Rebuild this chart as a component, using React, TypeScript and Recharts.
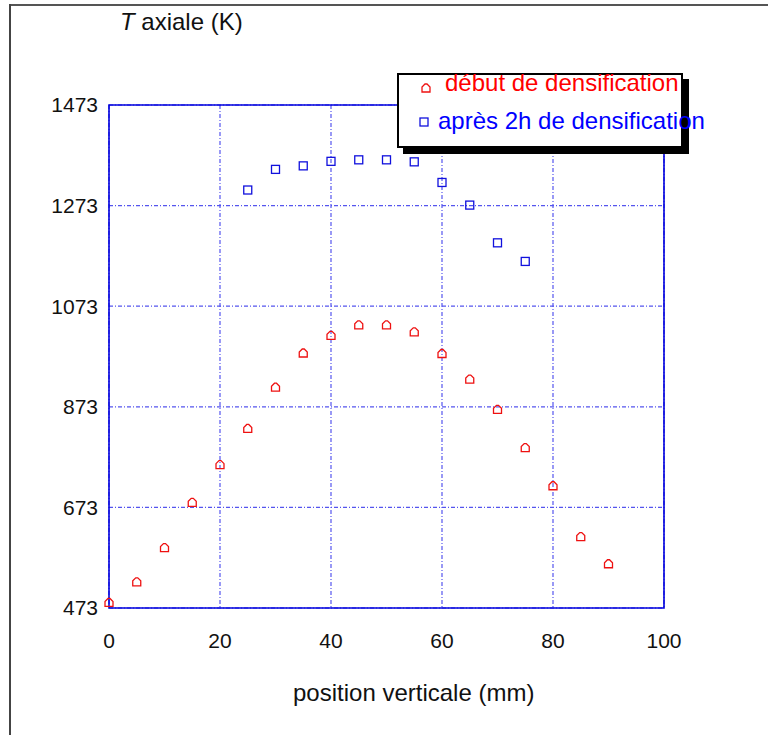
import {
  ScatterChart,
  Scatter,
  XAxis,
  YAxis,
  CartesianGrid,
  ReferenceArea,
} from "recharts";

// position verticale (mm)
const positions = [0, 5, 10, 15, 20, 25, 30, 35, 40, 45, 50, 55, 60, 65, 70, 75, 80, 85, 90];
// T axiale (K), début de densification
const tempDebut = [484, 525, 593, 683, 758, 830, 912, 980, 1015, 1036, 1036, 1022, 979, 928, 868, 792, 716, 615, 561];
// T axiale (K), après 2h (mesurée de 25 à 75 mm)
const positions2h = [25, 30, 35, 40, 45, 50, 55, 60, 65, 70, 75];
const temp2h = [1304, 1345, 1352, 1361, 1364, 1364, 1360, 1319, 1274, 1199, 1162];

const xTicks = [0, 20, 40, 60, 80, 100];
const yTicks = [473, 673, 873, 1073, 1273, 1473];

const debutData = positions.map((x, i) => ({ x, y: tempDebut[i] }));
const apresData = positions2h.map((x, i) => ({ x, y: temp2h[i] }));

const FONT = "Arial, 'Liberation Sans', sans-serif";
const RED = "#ee1111";
const BLUE = "#1111dd";

// little "house" outline used by the red series
function HouseMarker(props: { cx?: number; cy?: number }) {
  const { cx = 0, cy = 0 } = props;
  const d = `M${cx - 4},${cy + 4} L${cx + 4},${cy + 4} L${cx + 4},${cy - 1} L${cx + 1},${cy - 4} L${cx - 1},${cy - 4} L${cx - 4},${cy - 1} Z`;
  return <path d={d} fill="none" stroke={RED} strokeWidth={1.3} />;
}

function SquareMarker(props: { cx?: number; cy?: number }) {
  const { cx = 0, cy = 0 } = props;
  return (
    <rect x={cx - 4} y={cy - 4} width={8} height={8} fill="none" stroke={BLUE} strokeWidth={1.3} />
  );
}

function LegendBox() {
  return (
    <div
      style={{
        position: "absolute",
        left: 397,
        top: 73,
        width: 282,
        height: 71,
        border: "2px solid #000",
        background: "#fff",
        boxShadow: "6px 6px 0 #000",
        fontFamily: FONT,
        fontSize: 24,
      }}
    >
      <svg width={10} height={10} style={{ position: "absolute", left: 22, top: 8 }}>
        <HouseMarker cx={5} cy={5} />
      </svg>
      <span style={{ position: "absolute", left: 46, top: -6, color: "#ff0000", whiteSpace: "nowrap" }}>
        début de densification
      </span>
      <svg width={10} height={10} style={{ position: "absolute", left: 20, top: 42 }}>
        <SquareMarker cx={5} cy={5} />
      </svg>
      <span style={{ position: "absolute", left: 39, top: 32, color: "#0000ff", whiteSpace: "nowrap" }}>
        après 2h de densification
      </span>
    </div>
  );
}

export default function App() {
  return (
    <div style={{ position: "fixed", left: 0, top: 0, width: 768, height: 735, background: "#fff", overflow: "hidden" }}>
      {/* outer frame (top and left edges only) */}
      <div style={{ position: "absolute", left: 9, top: 4, right: 0, height: 0, borderTop: "2px solid #555" }} />
      <div style={{ position: "absolute", left: 9, top: 4, bottom: 0, width: 0, borderLeft: "2px solid #444" }} />

      <div style={{ position: "absolute", left: 0, top: 0 }}>
        <ScatterChart width={768} height={735} margin={{ top: 105, right: 104, bottom: 87, left: 0 }}>
          <CartesianGrid
            stroke="#5555ee"
            strokeDasharray="4 2 1 2"
            strokeWidth={1.2}
          />
          <XAxis
            type="number"
            dataKey="x"
            domain={[0, 100]}
            ticks={xTicks}
            height={40}
            tickSize={0}
            tickMargin={25}
            axisLine={false}
            tick={{ fontSize: 21, fill: "#111", fontFamily: FONT }}
          />
          <YAxis
            type="number"
            dataKey="y"
            domain={[473, 1473]}
            ticks={yTicks}
            width={109}
            tickSize={0}
            tickMargin={11}
            axisLine={false}
            tick={{ fontSize: 21, fill: "#111", fontFamily: FONT }}
          />
          <ReferenceArea
            x1={0}
            x2={100}
            y1={473}
            y2={1473}
            fill="none"
            stroke="#0000dd"
            strokeWidth={1.6}
            ifOverflow="visible"
          />
          <Scatter
            name="début de densification"
            data={debutData}
            shape={<HouseMarker />}
            isAnimationActive={false}
          />
          <Scatter
            name="après 2h de densification"
            data={apresData}
            shape={<SquareMarker />}
            isAnimationActive={false}
          />
        </ScatterChart>
      </div>

      <LegendBox />

      {/* axis titles */}
      <div style={{ position: "absolute", left: 120, top: 8, fontFamily: FONT, fontSize: 24, color: "#111", whiteSpace: "nowrap" }}>
        <i>T</i> axiale (K)
      </div>
      <div style={{ position: "absolute", left: 293, top: 679, fontFamily: FONT, fontSize: 24, color: "#111", whiteSpace: "nowrap" }}>
        position verticale (mm)
      </div>
    </div>
  );
}
